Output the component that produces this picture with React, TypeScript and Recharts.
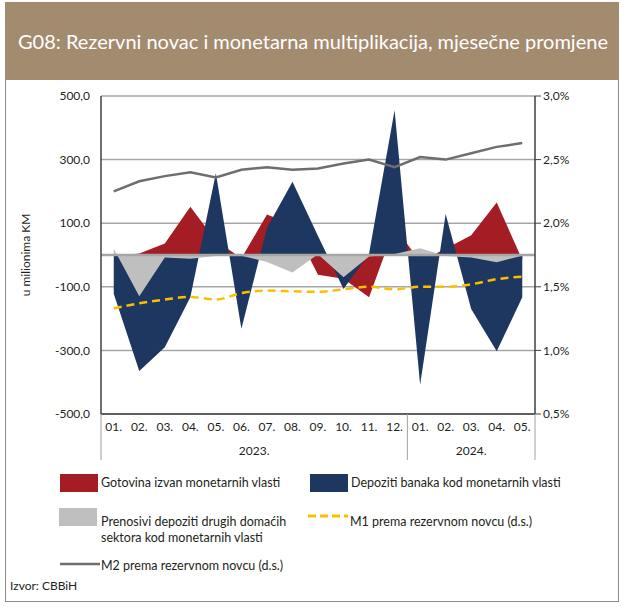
import React from "react";
import {
  ComposedChart,
  Area,
  Line,
  XAxis,
  YAxis,
  CartesianGrid,
  ReferenceLine,
} from "recharts";

const months = ["01.", "02.", "03.", "04.", "05.", "06.", "07.", "08.", "09.", "10.", "11.", "12.", "01.", "02.", "03.", "04.", "05."];
const years = ["2023.", "2023.", "2023.", "2023.", "2023.", "2023.", "2023.", "2023.", "2023.", "2023.", "2023.", "2023.", "2024.", "2024.", "2024.", "2024.", "2024."];

// mil. KM, lijeva skala
const gotovina = [-3, 5, 36, 152, 45, -10, 127, 96, -62, -75, -133, 88, -20, 20, 62, 165, -15];
const depoziti = [-122, -365, -290, -133, 257, -232, 85, 230, 60, -107, 5, 455, -408, 129, -170, -303, -133];
const prenosivi = [20, -130, -8, -12, -3, -2, -22, -55, 2, -70, -5, 3, 21, -3, -8, -23, -2];

// desna skala (%)
const m1 = [1.33, 1.37, 1.4, 1.42, 1.4, 1.45, 1.47, 1.465, 1.46, 1.48, 1.5, 1.48, 1.5, 1.5, 1.52, 1.56, 1.58];
const m2 = [2.25, 2.33, 2.37, 2.4, 2.36, 2.42, 2.44, 2.42, 2.43, 2.47, 2.5, 2.44, 2.52, 2.5, 2.55, 2.6, 2.63];

const leftTicks = [-500, -300, -100, 100, 300, 500];
const rightTicks = [0.5, 1, 1.5, 2, 2.5, 3];

const data = months.map((m, i) => ({
  month: m,
  year: years[i],
  gotovina: gotovina[i],
  depoziti: depoziti[i],
  prenosivi: prenosivi[i],
  m1: m1[i],
  m2: m2[i],
}));

const FONT = "Lato, 'Open Sans', sans-serif";
const TEXT = "#231f20";
const HALF = 12.75; // pola razmaka izmedju mjeseci

const fmt = (v: number) => v.toFixed(1).replace(".", ",");

function MonthTick(props: any) {
  const { x, y, payload, index } = props;
  const axisY = y - 8;
  const items: React.ReactNode[] = [];
  items.push(
    <text key="t" x={x} y={y} dy="0.71em" textAnchor="middle" fontSize={12} fill={TEXT} fontFamily={FONT}>
      {payload.value}
    </text>
  );
  const yr = years[index];
  const isFirst = index === 0;
  const isYearEnd = index === years.length - 1 || years[index + 1] !== yr;
  if (isFirst) {
    items.push(<line key="l" x1={x - HALF} x2={x - HALF} y1={axisY} y2={axisY + 46} stroke="#a0a0a0" strokeWidth={1} />);
  }
  if (isYearEnd) {
    items.push(<line key="r" x1={x + HALF} x2={x + HALF} y1={axisY} y2={axisY + 46} stroke="#a0a0a0" strokeWidth={1} />);
  }
  // godina u sredini grupe
  const first = years.indexOf(yr);
  const last = years.lastIndexOf(yr);
  const mid = (first + last) / 2;
  if (Math.floor(mid) === index) {
    const cx = mid === index ? x : x + HALF;
    items.push(
      <text key="y" x={cx} y={y + 24} dy="0.71em" textAnchor="middle" fontSize={12} fill={TEXT} fontFamily={FONT}>
        {yr}
      </text>
    );
  }
  return <g>{items}</g>;
}

const legendText: React.CSSProperties = {
  position: "absolute",
  fontFamily: FONT,
  fontSize: 12.5,
  color: TEXT,
  lineHeight: "16px",
  whiteSpace: "nowrap",
};

export default function App() {
  return (
    <div style={{ position: "absolute", left: 0, top: 0, width: 624, height: 607, background: "#fff", fontFamily: FONT }}>
      <div
        style={{
          position: "absolute",
          left: 5,
          top: 2,
          width: 614,
          height: 600,
          border: "1px solid #8c8c8c",
          boxSizing: "border-box",
        }}
      />
      <div
        style={{
          position: "absolute",
          left: 5,
          top: 2,
          width: 614,
          height: 78,
          background: "#a38b70",
          color: "#fff",
          fontSize: 20,
          display: "flex",
          alignItems: "center",
          paddingLeft: 13,
          boxSizing: "border-box",
          whiteSpace: "nowrap",
        }}
      >
        G08: Rezervni novac i monetarna multiplikacija, mjesečne promjene
      </div>

      <div style={{ position: "absolute", left: 0, top: 0 }}>
        <ComposedChart
          width={624}
          height={470}
          data={data}
          margin={{ top: 96, right: 29, left: 26, bottom: 6 }}
        >
          <CartesianGrid yAxisId="left" vertical={false} stroke="#a6a6a6" strokeWidth={1.5} />
          <XAxis
            dataKey="month"
            height={50}
            interval={0}
            padding={{ left: HALF, right: HALF }}
            axisLine={{ stroke: "#404040", strokeWidth: 1.5 }}
            tickLine={false}
            tick={<MonthTick />}
          />
          <XAxis
            xAxisId="top"
            dataKey="month"
            orientation="top"
            height={0}
            tick={false}
            tickLine={false}
            axisLine={{ stroke: "#404040", strokeWidth: 1.5 }}
          />
          <YAxis
            yAxisId="left"
            width={75}
            domain={[-500, 500]}
            ticks={leftTicks}
            tickFormatter={fmt}
            axisLine={{ stroke: "#404040", strokeWidth: 1.5 }}
            tickLine={false}
            tickMargin={5}
            tick={{ fontSize: 12, fill: TEXT, fontFamily: FONT }}
            label={{
              value: "u milionima KM",
              angle: -90,
              position: "insideLeft",
              offset: 0,
              style: { fontSize: 12, fill: TEXT, fontFamily: FONT, textAnchor: "middle" },
            }}
          />
          <YAxis
            yAxisId="right"
            orientation="right"
            width={60}
            domain={[0.5, 3]}
            ticks={rightTicks}
            tickFormatter={(v: number) => fmt(v) + "%"}
            axisLine={{ stroke: "#404040", strokeWidth: 1.5 }}
            tickLine={{ stroke: "#404040" }}
            tick={{ fontSize: 12, fill: TEXT, fontFamily: FONT }}
          />
          <Area
            yAxisId="left"
            type="linear"
            dataKey="gotovina"
            baseValue={0}
            stroke="none"
            fill="#a51d24"
            fillOpacity={1}
            isAnimationActive={false}
          />
          <Area
            yAxisId="left"
            type="linear"
            dataKey="depoziti"
            baseValue={0}
            stroke="none"
            fill="#1d3761"
            fillOpacity={1}
            isAnimationActive={false}
          />
          <Area
            yAxisId="left"
            type="linear"
            dataKey="prenosivi"
            baseValue={0}
            stroke="none"
            fill="#bfbfbf"
            fillOpacity={1}
            isAnimationActive={false}
          />
          <ReferenceLine yAxisId="left" y={0} stroke="#a6a6a6" strokeWidth={2.5} />
          <Line
            yAxisId="right"
            type="monotone"
            dataKey="m1"
            stroke="#fbbf00"
            strokeWidth={2.5}
            strokeDasharray="8 5"
            dot={false}
            isAnimationActive={false}
          />
          <Line
            yAxisId="right"
            type="linear"
            dataKey="m2"
            stroke="#6e6e6e"
            strokeWidth={2.5}
            dot={false}
            isAnimationActive={false}
          />
        </ComposedChart>
      </div>

      {/* legenda */}
      <div style={{ position: "absolute", left: 60, top: 474, width: 38, height: 18, background: "#a51d24" }} />
      <div style={{ ...legendText, left: 101, top: 475 }}>Gotovina izvan monetarnih vlasti</div>
      <div style={{ position: "absolute", left: 310, top: 474, width: 38, height: 18, background: "#1d3761" }} />
      <div style={{ ...legendText, left: 351, top: 475 }}>Depoziti banaka kod monetarnih vlasti</div>

      <div style={{ position: "absolute", left: 59, top: 508, width: 38, height: 18, background: "#bfbfbf" }} />
      <div style={{ ...legendText, left: 101, top: 514 }}>
        Prenosivi depoziti drugih domaćih
        <br />
        sektora kod monetarnih vlasti
      </div>
      <svg style={{ position: "absolute", left: 308, top: 513 }} width={40} height={6}>
        <line x1={0} x2={40} y1={3} y2={3} stroke="#fbbf00" strokeWidth={3} strokeDasharray="8 4" />
      </svg>
      <div style={{ ...legendText, left: 350, top: 514 }}>M1 prema rezervnom novcu (d.s.)</div>

      <svg style={{ position: "absolute", left: 60, top: 561 }} width={40} height={6}>
        <line x1={0} x2={40} y1={3} y2={3} stroke="#6e6e6e" strokeWidth={2.5} />
      </svg>
      <div style={{ ...legendText, left: 101, top: 558 }}>M2 prema rezervnom novcu (d.s.)</div>

      <div style={{ ...legendText, left: 10, top: 578, fontSize: 12 }}>Izvor: CBBiH</div>
    </div>
  );
}
